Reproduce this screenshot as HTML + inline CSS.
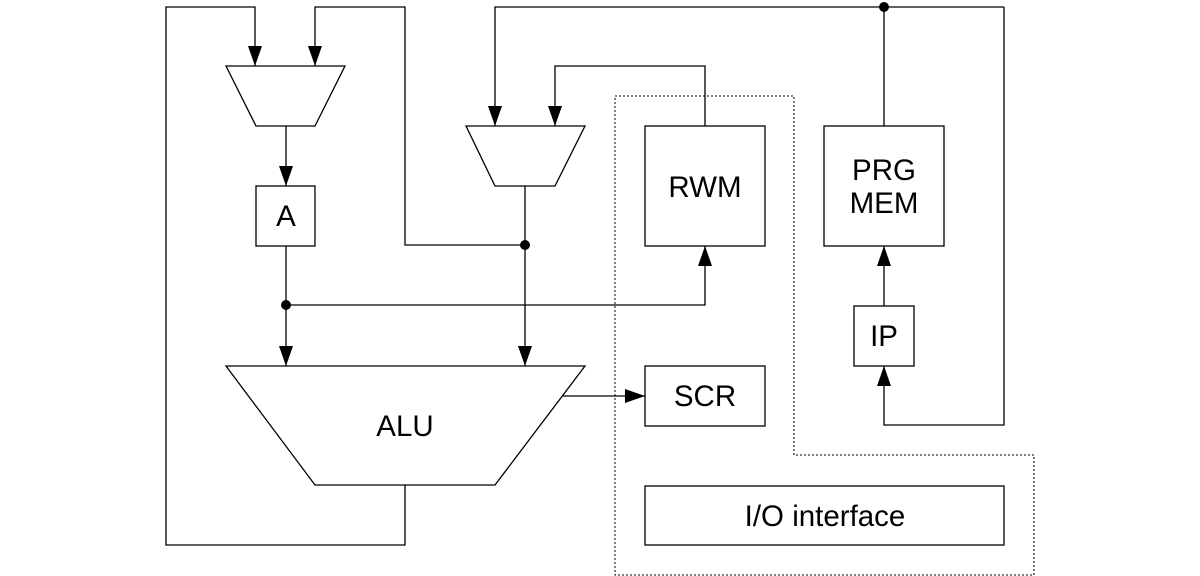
<!DOCTYPE html>
<html><head><style>html,body{margin:0;padding:0;background:#fff}svg{display:block}</style></head><body>
<svg width="1200" height="576" viewBox="0 0 1200 576" xmlns="http://www.w3.org/2000/svg">
<defs>
<marker id="b" markerWidth="20" markerHeight="14" refX="20" refY="7" orient="auto" markerUnits="userSpaceOnUse" viewBox="0 0 20 14"><path d="M0,0L20,7L0,14Z" fill="#000"/></marker></defs>
<g fill="none" stroke="#000" stroke-width="1.3">
<polyline points="405,485 405,545 166,545 166,7 255,7 255,66" marker-end="url(#b)"/>
<polyline points="525,245 405,245 405,7 315,7 315,66" marker-end="url(#b)"/>
<polyline points="1004,7 495,7 495,126" marker-end="url(#b)"/>
<polyline points="705,126 705,66 555,66 555,126" marker-end="url(#b)"/>
<polyline points="286,126 286,186" marker-end="url(#b)"/>
<polyline points="286,246 286,366" marker-end="url(#b)"/>
<polyline points="525,186 525,366" marker-end="url(#b)"/>
<polyline points="286,305 705,305 705,246" marker-end="url(#b)"/>
<polyline points="563,396 645,396" marker-end="url(#b)"/>
<polyline points="884,126 884,7"/>
<polyline points="1004,7 1004,425 884,425 884,366" marker-end="url(#b)"/>
<polyline points="884,306 884,246" marker-end="url(#b)"/>
<polygon points="226,66 345,66 315,126 256,126" fill="#fff"/>
<polygon points="466,126 585,126 555,186 495,186" fill="#fff"/>
<polygon points="226,366 585,366 495,485 315,485" fill="#fff"/>
<rect x="256" y="186" width="59" height="60" fill="#fff"/>
<rect x="645" y="126" width="120" height="120" fill="#fff"/>
<rect x="824" y="126" width="120" height="120" fill="#fff"/>
<rect x="854" y="306" width="60" height="60" fill="#fff"/>
<rect x="645" y="366" width="120" height="60" fill="#fff"/>
<rect x="645" y="486" width="359" height="59" fill="#fff"/>
<polygon points="615,96 794,96 794,455 1034,455 1034,575 615,575" stroke-dasharray="2,2" stroke-width="1"/>
</g>
<g fill="#000"><circle cx="525" cy="245" r="5"/><circle cx="286" cy="305" r="5"/><circle cx="884" cy="7" r="5"/></g>
<g font-family="Liberation Sans, sans-serif" font-size="29.5" text-anchor="middle" fill="#000">
<text x="286" y="226">A</text>
<text x="705" y="197">RWM</text>
<text x="884" y="180">PRG</text>
<text x="884" y="213">MEM</text>
<text x="884" y="346">IP</text>
<text x="705" y="406">SCR</text>
<text x="405" y="436">ALU</text>
<text x="825" y="526">I/O interface</text>
</g>
</svg>
</body></html>
